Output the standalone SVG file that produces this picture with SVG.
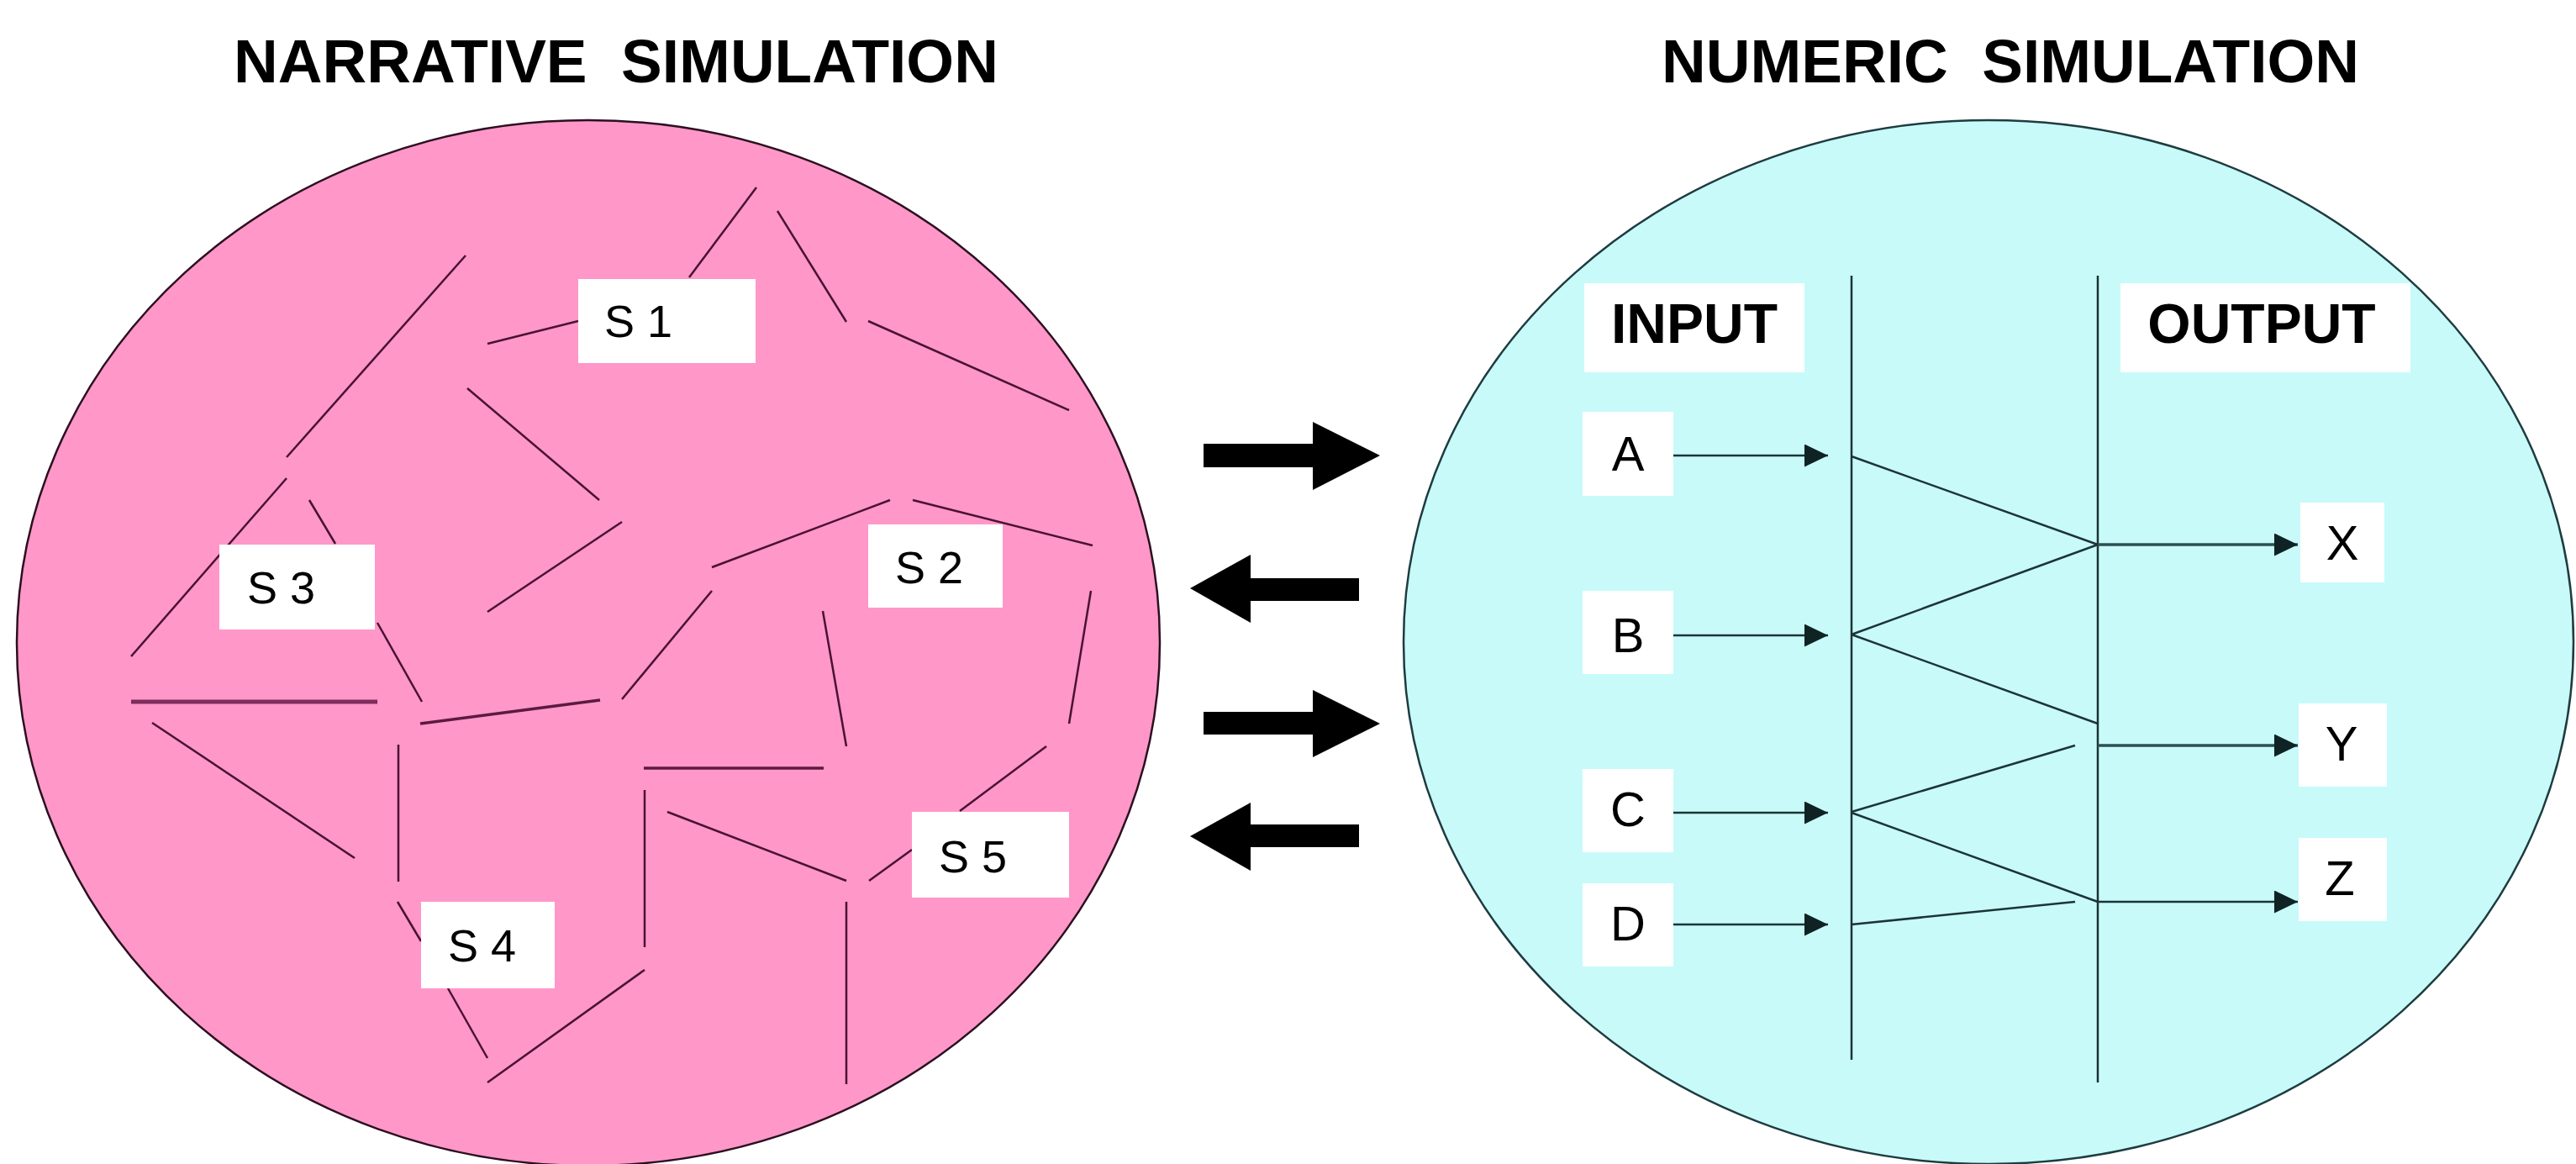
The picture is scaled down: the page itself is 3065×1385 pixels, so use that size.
<svg xmlns="http://www.w3.org/2000/svg" width="3065" height="1385" viewBox="0 0 3065 1385">
<style>
.title{font-family:"Liberation Sans",Arial,sans-serif;font-weight:bold;font-size:73px;fill:#000;text-anchor:middle;white-space:pre}
.head{font-family:"Liberation Sans",Arial,sans-serif;font-weight:bold;font-size:66px;fill:#000;text-anchor:middle}
.lbl{font-family:"Liberation Sans",Arial,sans-serif;font-size:54px;fill:#000}
.let{font-family:"Liberation Sans",Arial,sans-serif;font-size:58px;fill:#000;text-anchor:middle}
.box{fill:#ffffff}
.seg{stroke:#4a1232;stroke-width:2.5;fill:none;stroke-linecap:butt}
.segT{stroke:#7e2c5c;stroke-width:5;fill:none}
.segM{stroke:#5c1a40;stroke-width:3.5;fill:none}
.cn{stroke:#1c3437;stroke-width:2.5;fill:none}
.cnA{stroke:#1c3437;stroke-width:2.5;fill:none;marker-end:url(#ah)}
.cnO{stroke:#2c4f52;stroke-width:3.5;fill:none;marker-end:url(#ah)}
.big{fill:#000}
</style>
<defs>
<marker id="ah" markerUnits="userSpaceOnUse" markerWidth="30" markerHeight="30" refX="28" refY="13.5" orient="auto">
<path d="M0,0 L28,13.5 L0,27 Z" fill="#0f2224"/>
</marker>
</defs>
<rect width="3065" height="1385" fill="#ffffff"/>
<text class="title" x="733" y="98" xml:space="preserve">NARRATIVE  SIMULATION</text>
<text class="title" x="2392" y="98" xml:space="preserve">NUMERIC  SIMULATION</text>

<g id="narrative">
<ellipse cx="700" cy="765" rx="680" ry="622" fill="#ff97c9" stroke="#2b1020" stroke-width="2.5"/>
<g id="narrative-segments">
<line class="seg" x1="554" y1="304" x2="341" y2="544"/>
<line class="seg" x1="580" y1="409" x2="688" y2="382"/>
<line class="seg" x1="820" y1="330" x2="900" y2="223"/>
<line class="seg" x1="925" y1="251" x2="1007" y2="383"/>
<line class="seg" x1="1033" y1="382" x2="1272" y2="488"/>
<line class="seg" x1="556" y1="462" x2="713" y2="595"/>
<line class="seg" x1="580" y1="728" x2="740" y2="621"/>
<line class="seg" x1="341" y1="569" x2="156" y2="781"/>
<line class="seg" x1="368" y1="595" x2="399" y2="647"/>
<line class="seg" x1="449" y1="741" x2="502" y2="835"/>
<line class="segT" x1="156" y1="835" x2="449" y2="835"/>
<line class="segM" x1="500" y1="861" x2="714" y2="833"/>
<line class="seg" x1="740" y1="832" x2="847" y2="703"/>
<line class="seg" x1="847" y1="675" x2="1059" y2="595"/>
<line class="seg" x1="1086" y1="595" x2="1300" y2="649"/>
<line class="seg" x1="1298" y1="703" x2="1272" y2="861"/>
<line class="seg" x1="979" y1="727" x2="1007" y2="888"/>
<line class="segM" x1="766" y1="914" x2="980" y2="914"/>
<line class="seg" x1="767" y1="940" x2="767" y2="1127"/>
<line class="seg" x1="794" y1="966" x2="1007" y2="1048"/>
<line class="seg" x1="1034" y1="1048" x2="1085" y2="1011"/>
<line class="seg" x1="1142" y1="965" x2="1245" y2="888"/>
<line class="seg" x1="1007" y1="1073" x2="1007" y2="1290"/>
<line class="seg" x1="767" y1="1154" x2="580" y2="1288"/>
<line class="seg" x1="533" y1="1176" x2="580" y2="1259"/>
<line class="seg" x1="473" y1="1073" x2="501" y2="1120"/>
<line class="seg" x1="474" y1="886" x2="474" y2="1049"/>
<line class="seg" x1="181" y1="860" x2="422" y2="1021"/>
</g>
<g id="s1"><rect class="box" x="688" y="332" width="211" height="100"/><text class="lbl" x="719" y="401">S 1</text></g>
<g id="s2"><rect class="box" x="1033" y="624" width="160" height="99"/><text class="lbl" x="1065" y="694">S 2</text></g>
<g id="s3"><rect class="box" x="261" y="648" width="185" height="101"/><text class="lbl" x="294" y="718">S 3</text></g>
<g id="s4"><rect class="box" x="501" y="1073" width="159" height="103"/><text class="lbl" x="533" y="1144">S 4</text></g>
<g id="s5"><rect class="box" x="1085" y="966" width="187" height="102"/><text class="lbl" x="1117" y="1038">S 5</text></g>
</g>

<g id="exchange-arrows">
<polygon class="big" points="1432,528 1562,528 1562,502 1642,542 1562,583 1562,556 1432,556"/>
<polygon class="big" points="1617,688 1488,688 1488,660 1416,700 1488,741 1488,715 1617,715"/>
<polygon class="big" points="1432,847 1562,847 1562,821 1642,861 1562,901 1562,874 1432,874"/>
<polygon class="big" points="1617,981 1488,981 1488,955 1416,995 1488,1036 1488,1008 1617,1008"/>
</g>

<g id="numeric">
<ellipse cx="2366" cy="764" rx="696" ry="621" fill="#c8fafa" stroke="#1e3c40" stroke-width="2.5"/>
</g>

<g id="connectors">
<line class="cn" x1="2203" y1="328" x2="2203" y2="1261"/>
<line class="cn" x1="2496" y1="328" x2="2496" y2="1288"/>
<line class="cnA" x1="1991" y1="542" x2="2175" y2="542"/>
<line class="cnA" x1="1991" y1="756" x2="2175" y2="756"/>
<line class="cnA" x1="1991" y1="967" x2="2175" y2="967"/>
<line class="cnA" x1="1991" y1="1100" x2="2175" y2="1100"/>
<line class="cn" x1="2203" y1="543" x2="2496" y2="648"/>
<line class="cn" x1="2203" y1="755" x2="2496" y2="648"/>
<line class="cn" x1="2203" y1="755" x2="2496" y2="861"/>
<line class="cn" x1="2203" y1="966" x2="2469" y2="887"/>
<line class="cn" x1="2203" y1="967" x2="2496" y2="1073"/>
<line class="cn" x1="2203" y1="1100" x2="2469" y2="1073"/>
<line class="cnO" x1="2496" y1="648" x2="2734" y2="648"/>
<line class="cnO" x1="2496" y1="887" x2="2734" y2="887"/>
<line class="cnA" x1="2496" y1="1073" x2="2734" y2="1073"/>
</g>

<g id="input"><rect class="box" x="1885" y="337" width="262" height="106"/><text class="head" x="2016" y="408">INPUT</text></g>
<g id="output"><rect class="box" x="2523" y="337" width="345" height="106"/><text class="head" x="2691" y="408">OUTPUT</text></g>
<g id="a"><rect class="box" x="1883" y="490" width="108" height="100"/><text class="let" x="1937" y="560">A</text></g>
<g id="b"><rect class="box" x="1883" y="703" width="108" height="99"/><text class="let" x="1937" y="776">B</text></g>
<g id="c"><rect class="box" x="1883" y="915" width="108" height="99"/><text class="let" x="1937" y="983">C</text></g>
<g id="d"><rect class="box" x="1883" y="1051" width="108" height="99"/><text class="let" x="1937" y="1119">D</text></g>
<g id="x"><rect class="box" x="2737" y="598" width="100" height="95"/><text class="let" x="2787" y="666">X</text></g>
<g id="y"><rect class="box" x="2735" y="837" width="105" height="99"/><text class="let" x="2786" y="905">Y</text></g>
<g id="z"><rect class="box" x="2735" y="997" width="105" height="99"/><text class="let" x="2784" y="1065">Z</text></g>
</svg>
